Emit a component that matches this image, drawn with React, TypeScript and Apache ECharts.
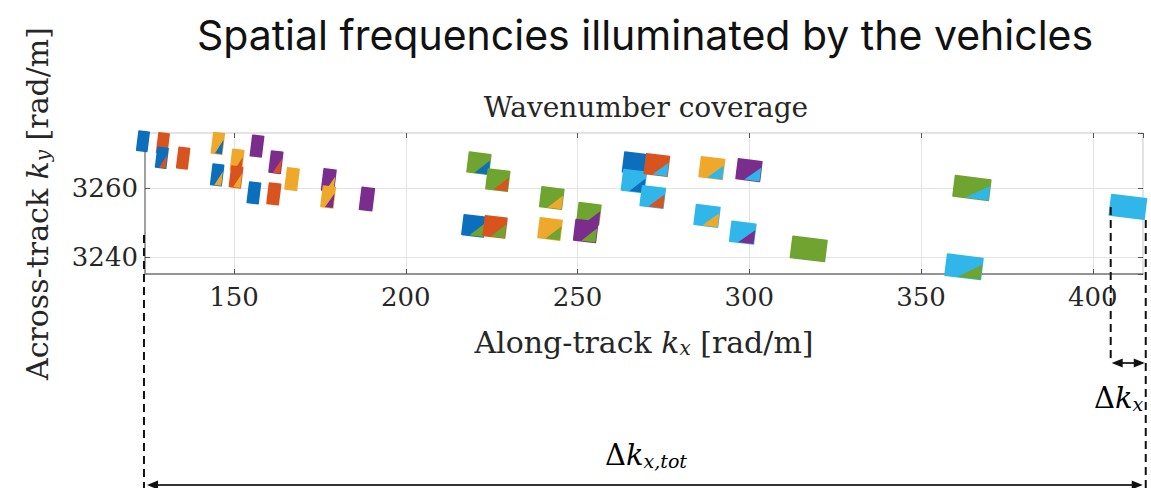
import React, { useEffect, useRef } from "react";
import * as echarts from "echarts";

// Vehicle colours (one per illuminating vehicle)
const vehicleColors = ["#0b6fbd", "#d9531e", "#eea92c", "#7b2d8d", "#6ea42f", "#31b6ea"];

// Wavenumber patches: centre (kx, ky), extent (dkx, dky), and the two vehicles
// whose combined geometry produces the patch (main colour, corner colour).
const patchKx = [
  123.5, 129.3, 129.0, 135.2, 145.3, 145.1, 150.9, 150.6, 156.7, 155.8, 162.2, 161.6, 166.9, 177.6, 177.4, 188.7,
  221.3, 226.8, 219.8, 226.0, 242.5, 242.0, 253.3, 252.4, 266.7, 266.4, 273.1, 271.9,
  289.1, 299.9, 287.7, 298.1, 317.3, 364.8, 362.5, 410.2,
];
const patchKy = [
  3273.6, 3273.0, 3268.8, 3268.7, 3273.0, 3263.8, 3268.1, 3263.2, 3272.2, 3258.6, 3267.5, 3258.3, 3262.6, 3262.3, 3257.4, 3256.8,
  3267.2, 3262.3, 3249.0, 3248.7, 3257.1, 3248.1, 3252.5, 3247.5, 3267.2, 3262.0, 3266.7, 3257.4,
  3265.8, 3265.2, 3251.9, 3247.0, 3242.3, 3260.0, 3237.1, 3254.5,
];
const patchDkx = [
  3.0, 3.0, 3.0, 3.1, 3.1, 3.1, 3.2, 3.2, 3.2, 3.2, 3.3, 3.3, 3.4, 3.5, 3.5, 3.6,
  6.3, 6.3, 6.3, 6.3, 6.4, 6.4, 6.4, 6.4, 6.6, 6.6, 6.7, 6.7,
  6.8, 6.9, 6.9, 7.0, 10.0, 10.4, 10.4, 10.2,
];
const patchDky = [
  5.6, 5.8, 5.8, 6.0, 6.0, 6.0, 6.0, 6.0, 6.0, 6.0, 6.2, 6.0, 6.2, 6.2, 6.0, 6.4,
  5.8, 5.8, 5.8, 5.8, 5.8, 5.8, 5.8, 6.0, 5.8, 6.0, 5.8, 5.8,
  5.8, 5.8, 5.8, 5.8, 6.2, 6.0, 6.2, 6.0,
];
const patchMainVehicle = [
  0, 1, 0, 1, 2, 0, 2, 1, 3, 0, 3, 1, 2, 3, 2, 3,
  4, 4, 0, 1, 4, 2, 4, 3, 0, 5, 1, 5,
  2, 3, 5, 5, 4, 4, 5, 5,
];
const patchCornerVehicle = [
  0, 1, 1, 1, 0, 2, 1, 2, 3, 0, 1, 1, 2, 2, 3, 3,
  0, 1, 4, 4, 2, 4, 3, 4, 0, 0, 5, 1,
  5, 5, 2, 3, 4, 5, 4, 5,
];

// Axis extents and tick labels
const kxRange = [124.1, 414.6];
const kyRange = [3235.0, 3276.0];
const kxTickLabels = [150, 200, 250, 300, 350, 400];
const kyTickLabels = [3240, 3260];

// Extent of the combined coverage and of the last vehicle's band
const coverageMinKx = 123.8;
const coverageMaxKx = 415.4;
const lastBandMinKx = 405.2;

const SERIF = "DejaVu Serif";
const TILT = (7 * Math.PI) / 180;

function rot(cx: number, cy: number, x: number, y: number): number[] {
  const c = Math.cos(TILT);
  const s = Math.sin(TILT);
  return [cx + x * c - y * s, cy + x * s + y * c];
}

function arrowHead(x: number, y: number, dir: number, color: string) {
  const len = 11;
  const half = 4.5;
  return {
    type: "polygon",
    shape: {
      points: [
        [x, y],
        [x - dir * len, y - half],
        [x - dir * len, y + half],
      ],
    },
    style: { fill: color },
    z: 20,
  };
}

function tickFormatter(labels: number[]) {
  return (v: number) => {
    const r = Math.round(v);
    return labels.includes(r) && Math.abs(v - r) < 1e-6 ? String(r) : "";
  };
}

export default function App() {
  const ref = useRef<HTMLDivElement>(null);

  useEffect(() => {
    if (!ref.current) return;
    const chart = echarts.init(ref.current, undefined, { renderer: "svg" });

    const data = patchKx.map((kx, i) => [
      kx,
      patchKy[i],
      patchDkx[i],
      patchDky[i],
      patchMainVehicle[i],
      patchCornerVehicle[i],
    ]);

    const tickFont = { fontFamily: SERIF, fontSize: 26, color: "#262626" };
    const nameRich = {
      t: { fontFamily: SERIF, fontSize: 30, color: "#262626" },
      k: { fontFamily: SERIF, fontSize: 30, fontStyle: "italic", color: "#262626" },
      s: { fontFamily: SERIF, fontSize: 20, fontStyle: "italic", color: "#262626", padding: [12, 0, 0, 0] },
    };
    const annRich = {
      t: { fontFamily: SERIF, fontSize: 29, color: "#262626" },
      k: { fontFamily: SERIF, fontSize: 29, fontStyle: "italic", color: "#262626" },
      s: { fontFamily: SERIF, fontSize: 19, fontStyle: "italic", color: "#262626", padding: [12, 0, 0, 0] },
    };

    chart.setOption({
      animation: false,
      backgroundColor: "#ffffff",
      title: [
        {
          text: "Spatial frequencies illuminated by the vehicles",
          left: 640,
          textAlign: "center",
          top: 9,
          textStyle: { fontFamily: "Inter", fontSize: 41, fontWeight: "normal", color: "#111111" },
        },
        {
          text: "Wavenumber coverage",
          left: 641,
          textAlign: "center",
          top: 88,
          textStyle: { fontFamily: SERIF, fontSize: 28, fontWeight: "normal", color: "#262626" },
        },
      ],
      grid: {
        left: 145,
        right: 8,
        top: 133,
        bottom: 214,
        show: true,
        borderColor: "#c4c4c4",
        borderWidth: 1,
      },
      xAxis: [
        {
          type: "value",
          min: kxRange[0],
          max: kxRange[1],
          splitNumber: 6,
          name: "{t|Along-track }{k|k}{s|x}{t| [rad/m]}",
          nameLocation: "middle",
          nameGap: 52,
          nameTextStyle: { rich: nameRich },
          axisLine: { show: true, lineStyle: { color: "#7a7a7a", width: 1.5 } },
          axisTick: { show: true, inside: true, length: 5, lineStyle: { color: "#555555" } },
          axisLabel: {
            ...tickFont,
            margin: 10,
            showMinLabel: false,
            showMaxLabel: false,
            formatter: tickFormatter(kxTickLabels),
          },
          splitLine: { show: true, lineStyle: { color: "#e4e4e4", width: 1 } },
        },
        {
          type: "value",
          position: "top",
          min: kxRange[0],
          max: kxRange[1],
          splitNumber: 6,
          axisLine: { show: false },
          axisTick: { show: true, inside: true, length: 5, lineStyle: { color: "#555555" } },
          axisLabel: { show: false },
          splitLine: { show: false },
        },
      ],
      yAxis: [
        {
          type: "value",
          min: kyRange[0],
          max: kyRange[1],
          splitNumber: 2,
          name: "{t|Across-track }{k|k}{s|y}{t| [rad/m]}",
          nameLocation: "middle",
          nameGap: 92,
          nameTextStyle: { rich: nameRich },
          axisLine: { show: true, lineStyle: { color: "#8a8a8a", width: 1.5 } },
          axisTick: { show: true, inside: true, length: 5, lineStyle: { color: "#555555" } },
          axisLabel: {
            ...tickFont,
            margin: 7,
            showMinLabel: false,
            showMaxLabel: false,
            formatter: tickFormatter(kyTickLabels),
          },
          splitLine: { show: true, lineStyle: { color: "#e4e4e4", width: 1 } },
        },
        {
          type: "value",
          position: "right",
          min: kyRange[0],
          max: kyRange[1],
          splitNumber: 2,
          axisLine: { show: false },
          axisTick: { show: true, inside: true, length: 5, lineStyle: { color: "#555555" } },
          axisLabel: { show: false },
          splitLine: { show: false },
        },
      ],
      series: [
        {
          type: "custom",
          clip: false,
          xAxisIndex: 0,
          yAxisIndex: 0,
          encode: { x: 0, y: 1 },
          data,
          renderItem: (_params: any, api: any) => {
            const c = api.coord([api.value(0), api.value(1)]);
            const sz = api.size([api.value(2), api.value(3)]);
            const hw = sz[0] / 2;
            const hh = sz[1] / 2;
            const main = vehicleColors[api.value(4)];
            const corner = vehicleColors[api.value(5)];
            const body = [
              rot(c[0], c[1], -hw, -hh),
              rot(c[0], c[1], hw, -hh),
              rot(c[0], c[1], hw, hh),
              rot(c[0], c[1], -hw, hh),
            ];
            const tri = [
              rot(c[0], c[1], -0.3 * hw, hh),
              rot(c[0], c[1], hw, hh),
              rot(c[0], c[1], hw, -0.4 * hh),
            ];
            return {
              type: "group",
              children: [
                { type: "polygon", shape: { points: body }, style: { fill: main, stroke: main, lineWidth: 1.5, lineJoin: "round" } },
                { type: "polygon", shape: { points: tri }, style: { fill: corner } },
              ],
            };
          },
        },
      ],
    });

    // Annotation of the total and single-vehicle along-track bandwidths
    const xl = chart.convertToPixel({ xAxisIndex: 0 }, coverageMinKx) as number;
    const xr = chart.convertToPixel({ xAxisIndex: 0 }, coverageMaxKx) as number;
    const xb = chart.convertToPixel({ xAxisIndex: 0 }, lastBandMinKx) as number;
    const ink = "#111111";
    const dash = { stroke: ink, lineWidth: 2, lineDash: [8, 5] };
    const yTot = 485;
    const yBand = 363;

    chart.setOption({
      graphic: [
        { type: "line", shape: { x1: xl, y1: 235, x2: xl, y2: 488 }, style: dash, z: 20 },
        { type: "line", shape: { x1: xr, y1: 220, x2: xr, y2: 488 }, style: dash, z: 20 },
        { type: "line", shape: { x1: xb, y1: 207, x2: xb, y2: yBand }, style: dash, z: 20 },
        { type: "line", shape: { x1: xl + 6, y1: yTot, x2: xr - 6, y2: yTot }, style: { stroke: "#333333", lineWidth: 2 }, z: 20 },
        arrowHead(xl + 3, yTot, -1, ink),
        arrowHead(xr - 3, yTot, 1, ink),
        { type: "line", shape: { x1: xb + 6, y1: yBand, x2: xr - 6, y2: yBand }, style: { stroke: "#333333", lineWidth: 2 }, z: 20 },
        arrowHead(xb + 1, yBand, -1, ink),
        arrowHead(xr - 1, yBand, 1, ink),
        {
          type: "text",
          x: 646,
          y: 455,
          style: {
            text: "{t|Δ}{k|k}{s|x,tot}",
            align: "center",
            verticalAlign: "middle",
            rich: annRich,
          },
          z: 20,
        },
        {
          type: "text",
          x: 1094,
          y: 398,
          style: {
            text: "{t|Δ}{k|k}{s|x}",
            align: "left",
            verticalAlign: "middle",
            rich: annRich,
          },
          z: 20,
        },
      ],
    });

    return () => chart.dispose();
  }, []);

  return (
    <div
      ref={ref}
      style={{ position: "fixed", left: 0, top: 0, width: 1151, height: 488, background: "#ffffff" }}
    />
  );
}
